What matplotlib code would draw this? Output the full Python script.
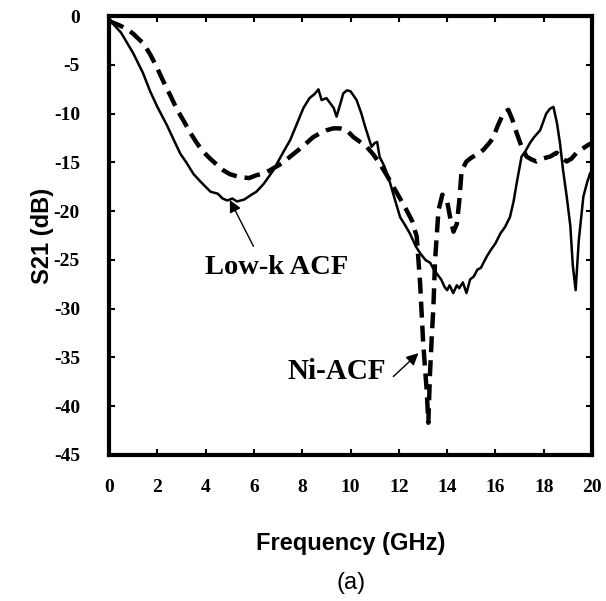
import matplotlib
matplotlib.use('Agg')
import matplotlib.pyplot as plt

plt.rcParams['axes.unicode_minus'] = False

# Low-k ACF (solid)
freq_lowk = [0, 0.1, 0.5, 1.0, 1.4, 1.7, 2.0, 2.4, 2.7, 2.95, 3.2, 3.5, 3.8, 4.2, 4.5, 4.7, 4.9,
             5.1, 5.3, 5.6, 5.9, 6.1, 6.4, 6.8, 7.2, 7.5, 7.8, 8.05, 8.3, 8.5, 8.67, 8.8, 9.0,
             9.15, 9.3, 9.42, 9.55, 9.7, 9.85, 10.0, 10.25, 10.45, 10.6, 10.87, 11.0, 11.1, 11.2,
             11.4, 11.6, 11.8, 12.05, 12.25, 12.46, 12.7, 12.88, 13.1, 13.3, 13.45, 13.57, 13.75,
             13.9, 14.0, 14.1, 14.25, 14.4, 14.5, 14.65, 14.8, 14.95, 15.1, 15.25, 15.4, 15.5,
             15.65, 15.8, 16.0, 16.2, 16.4, 16.6, 16.75, 16.88, 17.08, 17.25, 17.43, 17.6, 17.85,
             18.1, 18.25, 18.4, 18.55, 18.67, 18.8, 18.95, 19.1, 19.2, 19.32, 19.45, 19.64, 19.8,
             19.92, 20.0]
s21_lowk = [-0.4, -0.6, -1.7, -3.8, -5.8, -7.7, -9.3, -11.2, -12.8, -14.1, -15.0, -16.2, -17.0,
            -18.0, -18.2, -18.7, -18.9, -18.7, -19.0, -18.8, -18.3, -18.0, -17.2, -15.8, -14.0,
            -12.7, -10.9, -9.4, -8.4, -8.0, -7.5, -8.6, -8.4, -8.9, -9.4, -10.3, -9.2, -7.9, -7.6,
            -7.7, -8.6, -10.0, -11.3, -13.4, -13.0, -12.9, -14.4, -15.4, -16.8, -18.5, -20.6,
            -21.4, -22.3, -23.6, -24.3, -25.0, -25.3, -26.0, -26.4, -27.0, -27.8, -28.1, -27.6,
            -28.4, -27.6, -27.9, -27.3, -28.4, -27.0, -26.7, -26.0, -25.8, -25.3, -24.6, -24.0,
            -23.3, -22.3, -21.6, -20.6, -19.0, -17.1, -14.4, -13.8, -13.0, -12.4, -11.7, -10.0,
            -9.5, -9.3, -11.0, -13.0, -15.8, -18.5, -21.5, -25.5, -28.1, -23.0, -18.5, -17.0,
            -16.1, -15.8]

# Ni-ACF (dashed)
freq_ni = [0, 0.1, 0.4, 0.73, 1.0, 1.42, 1.7, 1.97, 2.25, 2.53, 2.8, 3.08, 3.35, 3.63, 3.9,
           4.18, 4.45, 4.73, 5.0, 5.42, 5.8, 6.11, 6.45, 6.8, 7.15, 7.5, 7.85, 8.18, 8.45, 8.74,
           9.0, 9.28, 9.55, 9.84, 10.12, 10.4, 10.67, 10.95, 11.2, 11.5, 11.77, 12.05, 12.32,
           12.55, 12.74, 12.88, 13.0, 13.08, 13.15, 13.22, 13.29, 13.36, 13.43, 13.5, 13.64,
           13.8, 14.0, 14.12, 14.26, 14.4, 14.5, 14.6, 14.8, 14.95, 15.2, 15.35, 15.5, 15.78,
           15.91, 16.1, 16.32, 16.53, 16.7, 16.88, 17.1, 17.29, 17.5, 17.7, 17.95, 18.26, 18.53,
           18.75, 18.95, 19.15, 19.36, 19.6, 19.84, 20.0]
s21_ni = [-0.4, -0.6, -0.9, -1.3, -1.8, -2.8, -3.9, -5.2, -6.7, -8.1, -9.5, -10.7, -11.9, -13.0,
          -13.9, -14.6, -15.2, -15.8, -16.2, -16.5, -16.6, -16.3, -16.1, -15.6, -15.1, -14.4,
          -13.7, -13.0, -12.4, -12.0, -11.7, -11.5, -11.5, -11.7, -12.4, -12.9, -13.4, -14.2,
          -15.1, -16.3, -17.5, -18.7, -19.9, -21.0, -22.6, -27.4, -33.2, -36.0, -38.3, -41.7,
          -36.6, -33.0, -29.8, -25.0, -19.9, -18.3, -19.0, -20.6, -22.1, -21.3, -19.0, -15.8,
          -14.9, -14.6, -14.2, -14.0, -13.7, -12.9, -12.4, -11.2, -10.0, -9.6, -10.6, -12.0,
          -13.5, -14.4, -14.7, -14.9, -14.6, -14.4, -14.0, -14.5, -14.9, -14.6, -14.0, -13.6,
          -13.2, -13.0]

x_ticks = list(range(0, 21, 2))
y_ticks = list(range(-45, 1, 5))

serif = ['Liberation Serif', 'DejaVu Serif']
sans = ['Liberation Sans', 'DejaVu Sans']

fig = plt.figure(figsize=(6.06, 6.01), dpi=100)
ax = fig.add_axes([0.180, 0.243, 0.797, 0.730])

ax.plot(freq_lowk, s21_lowk, color='black', lw=1.8)
ax.plot(freq_ni, s21_ni, color='black', lw=3.2, dashes=(3.6, 1.8))

ax.set_xlim(0, 20)
ax.set_ylim(-45, 0)
ax.set_xticks(x_ticks)
ax.set_yticks(y_ticks)
ax.tick_params(direction='in', length=4, width=1.5, top=True, right=True)
ax.tick_params(axis='x', pad=17)
ax.tick_params(axis='y', pad=21)
for lab in ax.get_xticklabels() + ax.get_yticklabels():
    lab.set_fontfamily(serif)
    lab.set_fontweight('bold')
    lab.set_fontsize(14)
for sp in ax.spines.values():
    sp.set_linewidth(3)

ax.set_xlabel('Frequency (GHz)', family=sans, fontweight='bold', fontsize=17, labelpad=26)
ax.set_ylabel('S21 (dB)', family=sans, fontweight='bold', fontsize=17, labelpad=0)

arrow = dict(arrowstyle='-|>', color='black', lw=1.0, mutation_scale=18, shrinkA=0, shrinkB=0)

ax.text(6.95, -25.8, 'Low-k ACF', ha='center', va='center',
        family=serif, fontweight='bold', fontsize=20.5)
ax.annotate('', xy=(5.0, -18.85), xytext=(5.98, -23.6), arrowprops=arrow)

ax.text(9.45, -36.4, 'Ni-ACF', ha='center', va='center',
        family=serif, fontweight='bold', fontsize=21)
ax.annotate('', xy=(12.81, -34.56), xytext=(11.77, -36.96), arrowprops=arrow)

fig.text(0.5 * (0.180 + 0.977), 1 - 583 / 601, '(a)', family=sans, fontsize=17,
         ha='center', va='center')

fig.savefig('out.png', dpi=100)
